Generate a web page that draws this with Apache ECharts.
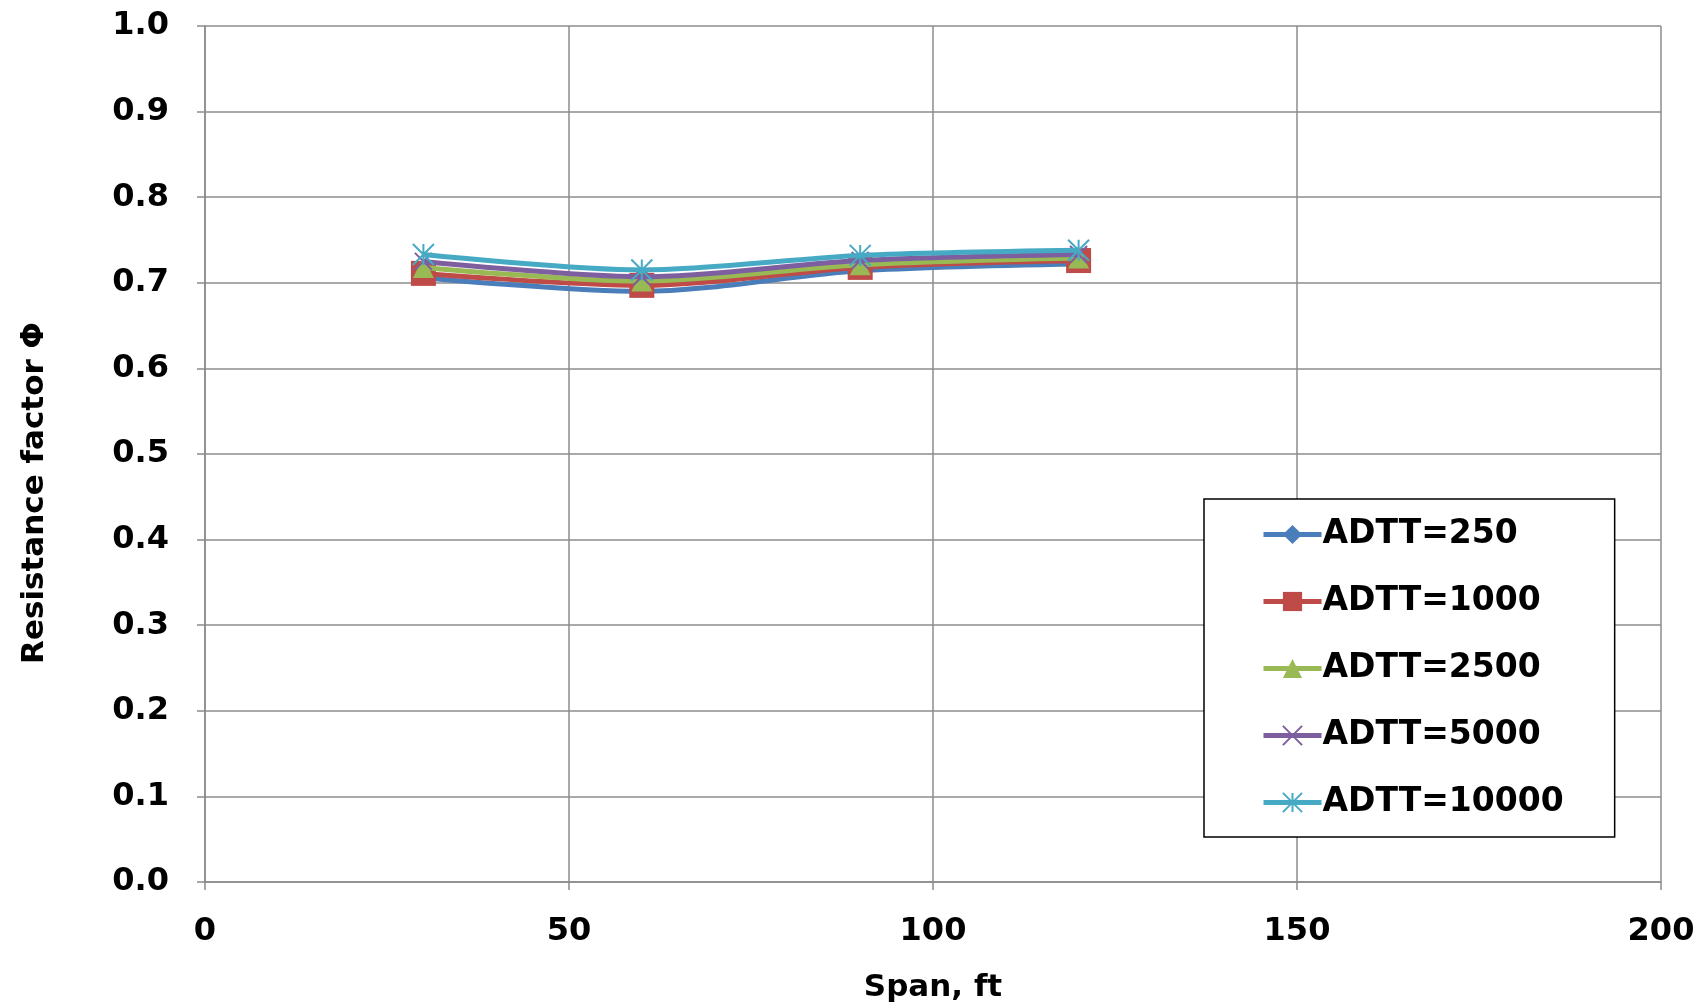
<!DOCTYPE html>
<html><head><meta charset="utf-8">
<script src="https://cdn.jsdelivr.net/npm/echarts@6/dist/echarts.min.js"></script>
<style>html,body{margin:0;padding:0;background:#fff}#c{width:1708px;height:1008px}</style>
</head><body><div id="c"></div>
<script>
const spans = [30, 60, 90, 120];
const adtt250 = [0.706, 0.690, 0.714, 0.722];
const adtt1000 = [0.711, 0.697, 0.718, 0.726];
const adtt2500 = [0.718, 0.702, 0.721, 0.729];
const adtt5000 = [0.725, 0.707, 0.726, 0.733];
const adtt10000 = [0.733, 0.715, 0.732, 0.738];
const seriesNames = ['ADTT=250','ADTT=1000','ADTT=2500','ADTT=5000','ADTT=10000'];
const yTicks = ['0.0','0.1','0.2','0.3','0.4','0.5','0.6','0.7','0.8','0.9','1.0'];
const yTitle = 'Resistance factor Φ';
const xTitle = 'Span, ft';

const FONT = '"DejaVu Sans", sans-serif';
const colors = ['#4a7ebb','#be4b48','#98b954','#7d5fa0','#46aac5'];
const xPath = 'path://M0 0 L10 10 M10 0 L0 10';
const starPath = 'path://M5 0 L5 10 M0 0 L10 10 M10 0 L0 10';
const symbols = ['diamond','rect','triangle',xPath,starPath];
const symSizes = [10,25,21,17,21];
const datasets = [adtt250, adtt1000, adtt2500, adtt5000, adtt10000];

const series = datasets.map((d,i)=>({
  name: seriesNames[i],
  type: 'line',
  smooth: 0.3,
  data: d.map((v,j)=>[spans[j], v]),
  symbol: symbols[i],
  symbolSize: symSizes[i],
  lineStyle: {width: 5, color: colors[i]},
  itemStyle: i>=3 ? {color: colors[i], borderColor: colors[i], borderWidth: 2} : {color: colors[i]},
  z: 2+i
}));

const chart = echarts.init(document.getElementById('c'), null, {renderer:'canvas'});
chart.setOption({
  animation: false,
  color: colors,
  grid: {left: 205, right: 47, top: 26, bottom: 122, containLabel: false},
  xAxis: {
    type: 'value', min: 0, max: 200, interval: 50,
    name: xTitle, nameLocation: 'middle', nameGap: 90,
    nameTextStyle: {fontFamily: FONT, fontWeight: 'bold', fontSize: 31, color: '#000'},
    axisLine: {lineStyle: {color: '#8c8c8c', width: 1.5}},
    axisTick: {show: true, length: 8, lineStyle: {color: '#8c8c8c', width: 1.5}},
    axisLabel: {fontFamily: FONT, fontWeight: 'bold', fontSize: 32, color: '#000', margin: 34},
    splitLine: {show: true, lineStyle: {color: '#8c8c8c', width: 1.5}}
  },
  yAxis: {
    type: 'value', min: 0, max: 1, interval: 0.1,
    axisLine: {show: true, lineStyle: {color: '#8c8c8c', width: 1.5}},
    axisTick: {show: true, length: 8, lineStyle: {color: '#8c8c8c', width: 1.5}},
    axisLabel: {fontFamily: FONT, fontWeight: 'bold', fontSize: 32, color: '#000', margin: 36,
      formatter: (v)=> yTicks[Math.round(v*10)]},
    splitLine: {show: true, lineStyle: {color: '#8c8c8c', width: 1.5}}
  },
  graphic: [{
    type: 'text', x: 35, y: 493, rotation: Math.PI/2,
    style: {text: yTitle, fontFamily: FONT, fontWeight: 'bold', fontSize: 31, fill: '#000',
      textAlign: 'center', textVerticalAlign: 'middle'}
  }],
  legend: {
    orient: 'vertical', left: 1204, top: 499, width: 410,
    data: seriesNames,
    backgroundColor: '#fff', borderColor: '#000', borderWidth: 1.5,
    padding: [19, 51, 18, 57],
    itemWidth: 58, itemHeight: 24, itemGap: 34,
    lineStyle: {width: 5},
    textStyle: {fontFamily: FONT, fontWeight: 'bold', fontSize: 33, color: '#000', padding: [0,0,0,-4]}
  },
  series: series
});
</script></body></html>
